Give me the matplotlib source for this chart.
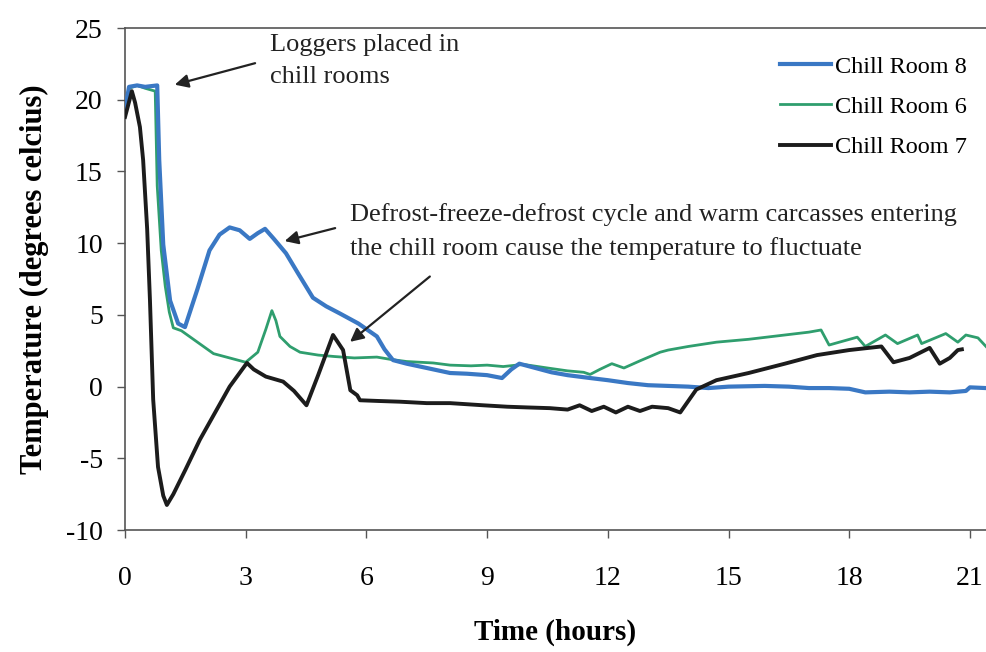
import matplotlib
matplotlib.use("Agg")
import matplotlib.pyplot as plt

# Chill Room 8 (blue)
t_room8 = [0, 0.1, 0.3, 0.5, 0.8, 0.85, 0.95, 1.12, 1.32, 1.49, 1.8, 2.1, 2.35, 2.6, 2.85,
           3.1, 3.3, 3.48, 3.7, 4.0, 4.3, 4.67, 5.0, 5.34, 5.8, 6.26, 6.45, 6.66, 7.0, 7.5,
           8.08, 8.5, 9.0, 9.37, 9.6, 9.8, 10.2, 10.6, 11.0, 11.56, 12.0, 12.5, 13.0, 13.5,
           14.0, 14.5, 15.0, 15.9, 16.5, 17.0, 17.5, 18.0, 18.4, 19.0, 19.5, 20.0, 20.5,
           20.9, 21.0, 21.4]
temp_room8 = [19.3, 20.9, 21.0, 20.9, 21.0, 15.8, 9.9, 6.0, 4.4, 4.15, 6.8, 9.5, 10.6, 11.1,
              10.9, 10.3, 10.7, 11.0, 10.3, 9.3, 7.9, 6.2, 5.6, 5.1, 4.4, 3.5, 2.6, 1.85, 1.6,
              1.3, 0.95, 0.9, 0.8, 0.6, 1.2, 1.6, 1.3, 1.0, 0.8, 0.6, 0.45, 0.25, 0.1, 0.05,
              0.0, -0.1, 0.0, 0.05, 0.0, -0.1, -0.1, -0.15, -0.4, -0.35, -0.4, -0.35, -0.4,
              -0.3, -0.05, -0.1]

# Chill Room 6 (green)
t_room6 = [0, 0.1, 0.3, 0.5, 0.75, 0.8, 0.9, 1.0, 1.1, 1.2, 1.4, 1.6, 1.9, 2.2, 2.6, 3.0,
           3.3, 3.5, 3.65, 3.75, 3.85, 4.1, 4.35, 4.8, 5.2, 5.7, 6.26, 6.6, 7.0, 7.66, 8.08,
           8.6, 9.0, 9.4, 9.9, 10.5, 11.0, 11.4, 11.56, 11.8, 12.1, 12.4, 12.8, 13.3, 13.5,
           14.0, 14.7, 15.5, 16.4, 17.0, 17.3, 17.5, 18.2, 18.4, 18.9, 19.2, 19.7, 19.8,
           20.4, 20.7, 20.9, 21.2, 21.4]
temp_room6 = [19.3, 20.8, 21.0, 20.8, 20.6, 14.0, 9.5, 7.0, 5.2, 4.1, 3.9, 3.5, 2.9, 2.3,
              2.0, 1.7, 2.4, 4.0, 5.3, 4.6, 3.5, 2.8, 2.4, 2.2, 2.1, 2.0, 2.06, 1.9, 1.75,
              1.65, 1.5, 1.45, 1.5, 1.4, 1.55, 1.3, 1.1, 1.0, 0.85, 1.2, 1.6, 1.3, 1.8, 2.4,
              2.55, 2.8, 3.1, 3.3, 3.6, 3.8, 3.95, 2.9, 3.45, 2.8, 3.6, 3.0, 3.6, 3.0, 3.7,
              3.1, 3.6, 3.4, 2.8]

# Chill Room 7 (black)
t_room7 = [0, 0.17, 0.25, 0.37, 0.45, 0.55, 0.62, 0.7, 0.82, 0.95, 1.04, 1.2, 1.5, 1.86,
           2.2, 2.6, 3.03, 3.2, 3.5, 3.93, 4.2, 4.51, 4.8, 5.17, 5.42, 5.6, 5.77, 5.84, 6.3,
           6.83, 7.5, 8.08, 8.9, 9.5, 10.0, 10.56, 11.0, 11.3, 11.6, 11.9, 12.2, 12.5, 12.8,
           13.1, 13.5, 13.8, 14.2, 14.7, 15.5, 16.4, 17.2, 18.0, 18.8, 19.1, 19.5, 20.0,
           20.25, 20.5, 20.7, 20.8]
temp_room7 = [18.8, 20.6, 19.8, 18.1, 15.8, 11.0, 6.0, -0.9, -5.6, -7.6, -8.25, -7.5, -5.8,
              -3.7, -2.0, 0.0, 1.65, 1.2, 0.7, 0.35, -0.3, -1.3, 0.8, 3.6, 2.55, -0.25, -0.6,
              -0.95, -1.0, -1.05, -1.15, -1.15, -1.3, -1.4, -1.45, -1.5, -1.6, -1.3, -1.7,
              -1.4, -1.8, -1.4, -1.7, -1.4, -1.5, -1.8, -0.2, 0.45, 0.95, 1.6, 2.2, 2.55, 2.8,
              1.7, 2.0, 2.7, 1.6, 2.0, 2.55, 2.6]

x_ticks = [0, 3, 6, 9, 12, 15, 18, 21]
y_ticks = [-10, -5, 0, 5, 10, 15, 20, 25]
y_tick_labels = ["-10", "-5", "0", "5", "10", "15", "20", "25"]

plt.rcParams["font.family"] = ["Liberation Serif", "DejaVu Serif"]

fig = plt.figure(figsize=(9.86, 6.52), dpi=100)
ax = fig.add_axes([0.1268, 0.187, 0.8732, 0.770])

ax.plot(t_room6, temp_room6, color="#2f9e6e", lw=2.0, label="Chill Room 6", zorder=2)
ax.plot(t_room8, temp_room8, color="#3a78c4", lw=3.0, label="Chill Room 8", zorder=3)
ax.plot(t_room7, temp_room7, color="#1c1c1c", lw=2.8, label="Chill Room 7", zorder=4)

ax.set_xlim(0, 21.4)
ax.set_ylim(-10, 25)
ax.set_xticks(x_ticks)
ax.set_yticks(y_ticks)
ax.set_yticklabels(y_tick_labels)
ax.tick_params(axis="both", labelsize=20, direction="out", length=6, width=1, color="#555555")
ax.tick_params(axis="x", pad=20)
ax.tick_params(axis="y", pad=10)

for side in ["left", "bottom", "top"]:
    ax.spines[side].set_color("#555555")
    ax.spines[side].set_linewidth(1.2)
ax.spines["right"].set_visible(False)

ax.set_xlabel("Time (hours)", fontsize=21, fontweight="bold", labelpad=20)
ax.set_ylabel("Temperature (degrees celcius)", fontsize=22, fontweight="bold", labelpad=12)

handles, labels = ax.get_legend_handles_labels()
order = [1, 0, 2]
ax.legend([handles[i] for i in order], [labels[i] for i in order],
          loc="upper left", bbox_to_anchor=(0.761, 0.945), frameon=False,
          fontsize=17.5, handlelength=2.1, handletextpad=0.15, labelspacing=0.75,
          borderaxespad=0, borderpad=0)

arrow = dict(arrowstyle="-|>", color="#222222", lw=1.6, mutation_scale=20)
ax.annotate("", xy=(1.17, 21.0), xytext=(3.3, 22.6), arrowprops=arrow)
ax.text(3.6, 24.6, "Loggers placed in\nchill rooms", fontsize=19, va="top", ha="left",
        linespacing=1.6, color="#222222")

ax.annotate("", xy=(3.9, 10.1), xytext=(5.29, 11.1), arrowprops=arrow)
ax.annotate("", xy=(5.54, 3.0), xytext=(7.63, 7.8), arrowprops=arrow)
ax.text(5.59, 12.8, "Defrost-freeze-defrost cycle and warm carcasses entering\n"
        "the chill room cause the temperature to fluctuate", fontsize=19, va="top",
        ha="left", linespacing=1.6, color="#222222")

fig.savefig("out.png", dpi=100)
